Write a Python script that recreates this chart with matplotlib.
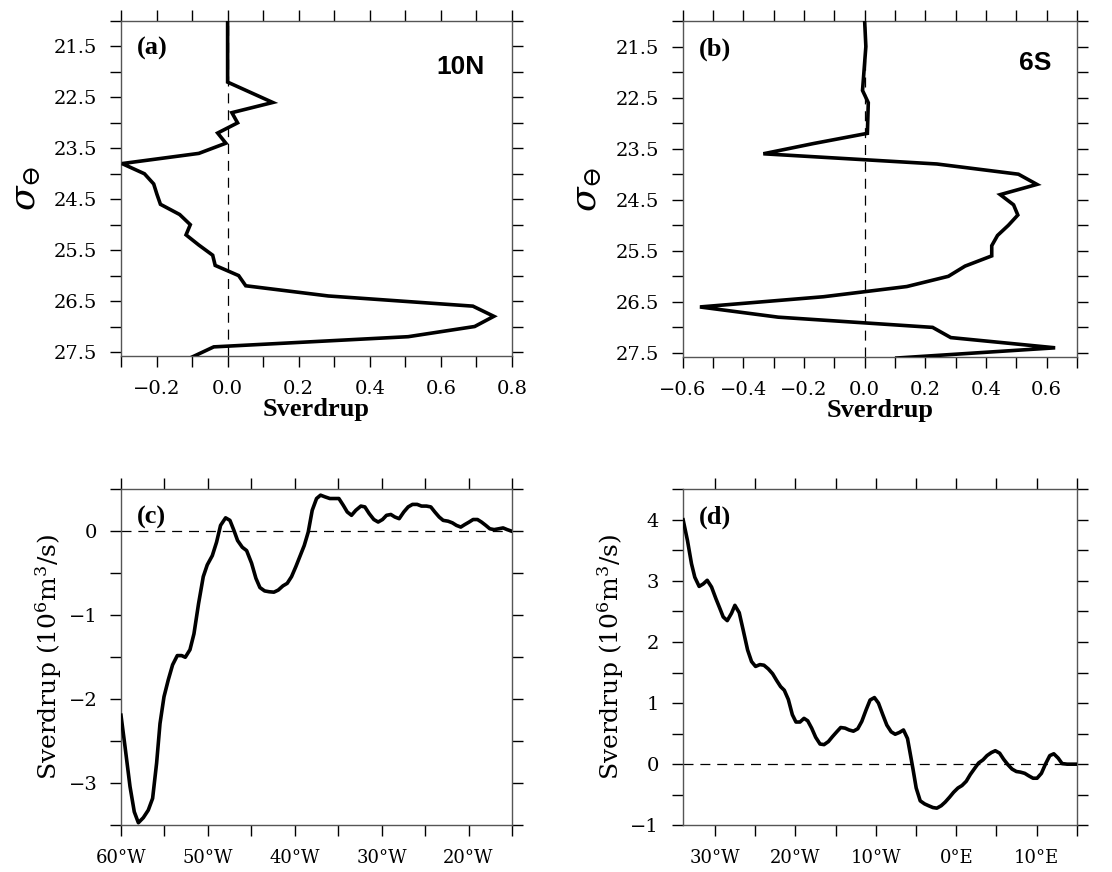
import numpy as np
import matplotlib
matplotlib.use("Agg")
from matplotlib import pyplot as plt
from matplotlib.ticker import MultipleLocator, FixedLocator

# panel (a) 10N: transport vs density
sig_a = [21.0, 22.2, 22.6, 22.8, 23.0, 23.2, 23.4, 23.6, 23.8, 24.0, 24.2, 24.4,
         24.6, 24.8, 25.0, 25.2, 25.4, 25.6, 25.8, 26.0, 26.2, 26.4, 26.6, 26.8,
         27.0, 27.2, 27.4, 27.6]
sv_a = [0.0, 0.0, 0.127, 0.012, 0.028, -0.028, -0.005, -0.081, -0.297, -0.234,
        -0.208, -0.199, -0.189, -0.135, -0.105, -0.117, -0.081, -0.042, -0.035,
        0.031, 0.051, 0.283, 0.69, 0.749, 0.695, 0.508, -0.039, -0.10]

# panel (b) 6S
sig_b = [21.0, 21.5, 22.36, 22.6, 23.2, 23.4, 23.6, 23.8, 24.0, 24.2, 24.4, 24.6,
         24.8, 25.0, 25.2, 25.4, 25.6, 25.8, 26.0, 26.2, 26.4, 26.6, 26.8, 27.0,
         27.2, 27.4, 27.6]
sv_b = [0.0, 0.004, -0.007, 0.012, 0.009, -0.169, -0.334, 0.238, 0.507, 0.568,
        0.447, 0.491, 0.505, 0.474, 0.438, 0.419, 0.419, 0.331, 0.276, 0.139,
        -0.136, -0.543, -0.285, 0.224, 0.284, 0.628, 0.106]

# panel (c) 10N zonal cumulative transport
lon_c = [-60.0, -59.54, -58.96, -58.47, -58.0, -57.43, -56.86, -56.36, -55.9, -55.51,
         -55.05, -54.56, -54.06, -53.52, -53.02, -52.6, -52.06, -51.6, -51.07, -50.53,
         -50.07, -49.49, -49.0, -48.54, -47.96, -47.46, -47.0, -46.58, -46.04, -45.54,
         -44.97, -44.47, -44.01, -43.47, -42.94, -42.4, -41.9, -41.36, -40.87, -40.37,
         -39.87, -39.41, -38.91, -38.45, -37.99, -37.49, -37.03, -36.53, -35.96, -35.46,
         -34.92, -34.42, -33.96, -33.47, -32.97, -32.39, -31.93, -31.43, -30.9, -30.4,
         -29.9, -29.44, -28.94, -28.48, -27.98, -27.45, -26.95, -26.45, -25.91, -25.41,
         -24.84, -24.34, -23.88, -23.38, -22.92, -22.35, -21.85, -21.39, -20.89, -20.43,
         -19.93, -19.47, -18.97, -18.51, -18.01, -17.55, -17.05, -16.51, -16.02, -15.56,
         -15.0]
sv_c = [-2.19, -2.56, -3.04, -3.34, -3.47, -3.41, -3.32, -3.18, -2.76, -2.29,
        -1.97, -1.77, -1.59, -1.48, -1.48, -1.50, -1.41, -1.22, -0.86, -0.54,
        -0.40, -0.29, -0.13, 0.07, 0.16, 0.13, 0.01, -0.11, -0.19, -0.23,
        -0.38, -0.56, -0.67, -0.71, -0.72, -0.725, -0.70, -0.65, -0.62, -0.54,
        -0.42, -0.30, -0.17, -0.01, 0.25, 0.39, 0.43, 0.41, 0.39, 0.39,
        0.39, 0.31, 0.23, 0.19, 0.25, 0.30, 0.29, 0.21, 0.14, 0.11,
        0.14, 0.19, 0.20, 0.17, 0.15, 0.23, 0.29, 0.32, 0.32, 0.30,
        0.30, 0.29, 0.23, 0.17, 0.13, 0.12, 0.10, 0.07, 0.05, 0.08,
        0.11, 0.14, 0.14, 0.11, 0.07, 0.03, 0.02, 0.03, 0.04, 0.02,
        0.0]

# panel (d) 6S
lon_d = [-33.94, -33.4, -32.9, -32.49, -31.95, -31.45, -30.95, -30.41, -29.87, -29.38,
         -28.96, -28.46, -27.93, -27.51, -26.97, -26.47, -25.93, -25.44, -24.94, -24.4,
         -23.9, -23.36, -22.82, -22.32, -21.83, -21.37, -20.87, -20.37, -19.92, -19.42,
         -18.92, -18.46, -17.97, -17.47, -16.93, -16.43, -15.89, -15.39, -14.85, -14.36,
         -13.82, -13.32, -12.78, -12.24, -11.74, -11.2, -10.71, -10.17, -9.67, -9.13,
         -8.63, -8.09, -7.59, -7.05, -6.56, -6.06, -5.73, -5.39, -4.98, -4.48,
         -3.94, -3.44, -2.9, -2.41, -1.87, -1.37, -0.83, -0.33, 0.21, 0.71,
         1.24, 1.74, 2.28, 2.78, 3.32, 3.82, 4.36, 4.85, 5.39, 5.89,
         6.43, 6.93, 7.47, 7.97, 8.51, 9.0, 9.54, 10.04, 10.58, 11.08,
         11.62, 12.12, 12.66, 13.15, 13.78, 15.0]
sv_d = [4.0, 3.66, 3.28, 3.06, 2.91, 2.95, 3.01, 2.90, 2.71, 2.55,
        2.41, 2.35, 2.47, 2.60, 2.48, 2.19, 1.87, 1.68, 1.60, 1.63,
        1.62, 1.56, 1.48, 1.37, 1.27, 1.21, 1.06, 0.81, 0.69, 0.69,
        0.75, 0.71, 0.59, 0.44, 0.33, 0.32, 0.37, 0.45, 0.53, 0.60,
        0.59, 0.56, 0.54, 0.58, 0.70, 0.89, 1.05, 1.09, 1.00, 0.81,
        0.64, 0.53, 0.49, 0.52, 0.56, 0.42, 0.18, -0.07, -0.39, -0.60,
        -0.65, -0.68, -0.71, -0.72, -0.68, -0.62, -0.54, -0.46, -0.39, -0.35,
        -0.28, -0.17, -0.07, 0.02, 0.07, 0.14, 0.19, 0.22, 0.18, 0.08,
        -0.01, -0.08, -0.12, -0.13, -0.15, -0.19, -0.23, -0.23, -0.15, 0.0,
        0.14, 0.17, 0.10, 0.01, 0.0, 0.0]

tick_font = "DejaVu Serif"
spine_col = "#555555"
dash = (0, (8, 5.5))


def style_axes(ax, xsize=14):
    for s in ax.spines.values():
        s.set_color(spine_col)
        s.set_linewidth(1.0)
    ax.tick_params(which="both", direction="out", length=8, width=1.0,
                   top=True, right=True, labeltop=False, labelright=False)
    ax.tick_params(axis="y", labelsize=14, pad=9)
    ax.tick_params(axis="x", labelsize=xsize, pad=9)
    for lab in ax.get_xticklabels() + ax.get_yticklabels():
        lab.set_family(tick_font)


def lon_fmt(v):
    v = int(round(v))
    if v < 0:
        return f"{-v}°W"
    return f"{v}°E"


fig = plt.figure(figsize=(11.12, 8.72), dpi=100)
plt.rcParams["mathtext.fontset"] = "dejavuserif"

ax_a = fig.add_axes([0.1088, 0.5917, 0.3516, 0.3842])
ax_b = fig.add_axes([0.6139, 0.5906, 0.3546, 0.3853])
ax_c = fig.add_axes([0.1088, 0.0536, 0.3516, 0.3853])
ax_d = fig.add_axes([0.6139, 0.0536, 0.3546, 0.3853])

# density panels
for ax, sig, sv, xlim, tag, name, nx, ny in [
        (ax_a, sig_a, sv_a, (-0.3, 0.8), "(a)", "10N", 0.93, 0.863),
        (ax_b, sig_b, sv_b, (-0.6, 0.7), "(b)", "6S", 0.935, 0.875)]:
    ax.plot(sv, sig, color="black", lw=2.6, solid_joinstyle="miter", zorder=3)
    ax.axvline(0, color="black", lw=0.9, ls=dash, zorder=2)
    ax.set_xlim(*xlim)
    ax.set_ylim(27.58, 21.0)
    ax.xaxis.set_major_locator(MultipleLocator(0.2))
    ax.xaxis.set_minor_locator(MultipleLocator(0.1))
    ax.yaxis.set_major_locator(FixedLocator([21.5, 22.5, 23.5, 24.5, 25.5, 26.5, 27.5]))
    ax.yaxis.set_minor_locator(MultipleLocator(0.5))
    ax.xaxis.set_major_formatter(lambda v, p: f"{v:.1f}".replace("-", "\u2212"))
    ax.yaxis.set_major_formatter(lambda v, p: f"{v:.1f}")
    style_axes(ax)
    ax.set_xlabel("Sverdrup", family="Liberation Serif", weight="bold",
                  fontsize=19, labelpad=0)
    ax.set_ylabel(r"$\sigma_{\ominus}$", fontsize=26, labelpad=8)
    ax.text(0.041, 0.952, tag, transform=ax.transAxes, family="Liberation Serif",
            weight="bold", fontsize=19, va="top", ha="left")
    ax.text(nx, ny, name, transform=ax.transAxes, family="Liberation Sans",
            weight="bold", fontsize=19, va="center", ha="right")

ax_b.xaxis.set_major_locator(FixedLocator([-0.6, -0.4, -0.2, 0.0, 0.2, 0.4, 0.6]))

# longitude panels
for ax, lon, sv, xlim, ylim, tag, yt in [
        (ax_c, lon_c, sv_c, (-60, -15), (-3.5, 0.5), "(c)", [-3, -2, -1, 0]),
        (ax_d, lon_d, sv_d, (-34, 15), (-1, 4.5), "(d)", [-1, 0, 1, 2, 3, 4])]:
    ax.plot(lon, sv, color="black", lw=2.6, zorder=3)
    ax.axhline(0, color="black", lw=0.9, ls=dash, zorder=2)
    ax.set_xlim(*xlim)
    ax.set_ylim(*ylim)
    ax.xaxis.set_major_locator(MultipleLocator(10))
    ax.xaxis.set_minor_locator(MultipleLocator(5))
    ax.yaxis.set_major_locator(FixedLocator(yt))
    ax.yaxis.set_minor_locator(MultipleLocator(0.5))
    ax.xaxis.set_major_formatter(lambda v, p: lon_fmt(v))
    ax.yaxis.set_major_formatter(lambda v, p: f"{int(v)}".replace("-", "\u2212"))
    style_axes(ax, xsize=13)
    ax.set_ylabel(r"Sverdrup (10$^6$m$^3$/s)", family=tick_font, fontsize=18,
                  labelpad=3)
    ax.text(0.041, 0.952, tag, transform=ax.transAxes, family="Liberation Serif",
            weight="bold", fontsize=19, va="top", ha="left")

fig.savefig("out.png", dpi=100)
